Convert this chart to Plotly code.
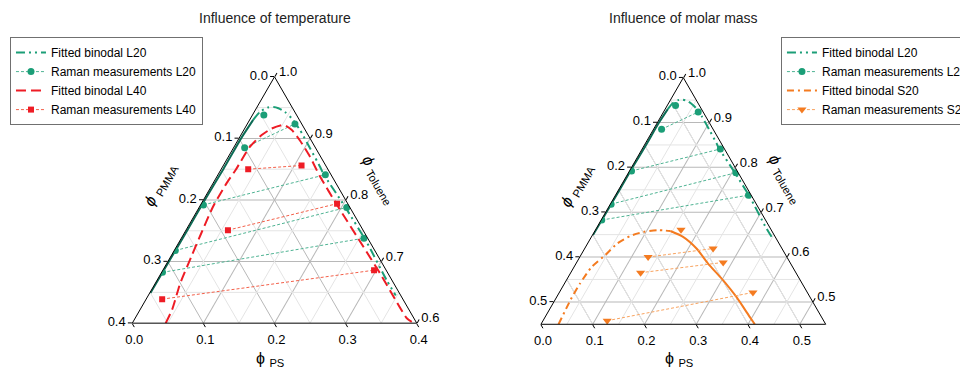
import plotly.graph_objects as go

FONT = "Arial, 'Liberation Sans', sans-serif"

TEAL = "#1b9e77"
TEAL_LIGHT = "#4fb393"
TEAL_DARK = "#0d6b55"
RED = "#ee1c25"
RED_LIGHT = "#f3604a"
ORANGE = "#f47b20"
ORANGE_LIGHT = "#f8a35f"

# ---------------- data (volume fractions: toluene, PS; PMMA = 1 - toluene - PS) ----------------
# Fitted binodal L20 (PMMA-rich branch along the PS = 0 edge, then the arc)
l20_edge_tol = [0.649, 0.700, 0.750, 0.800, 0.850, 0.900, 0.930]
l20_edge_ps = [0.001, 0.0015, 0.002, 0.002, 0.003, 0.003, 0.005]
l20_arc_tol = [0.930, 0.943, 0.950, 0.951, 0.949, 0.943, 0.9325, 0.9136, 0.884, 0.854, 0.843,
               0.789, 0.732, 0.670, 0.645]
l20_arc_ps = [0.005, 0.008, 0.015, 0.023, 0.031, 0.043, 0.058, 0.079, 0.108, 0.137, 0.147,
              0.2046, 0.2634, 0.3226, 0.348]

# Fitted binodal L40
l40_tol = [0.600, 0.622, 0.665, 0.708, 0.746, 0.789, 0.827, 0.849, 0.886, 0.905, 0.916, 0.922,
           0.914, 0.897, 0.870, 0.838, 0.789, 0.724, 0.676, 0.643, 0.608, 0.602]
l40_ps = [0.047, 0.045, 0.035, 0.029, 0.024, 0.019, 0.019, 0.021, 0.022, 0.029, 0.038, 0.052,
          0.067, 0.087, 0.115, 0.145, 0.195, 0.263, 0.313, 0.346, 0.382, 0.392]

# Fitted binodal S20 (left part, right part)
s20_left_tol = [0.450, 0.504, 0.541, 0.578, 0.604, 0.630, 0.647, 0.656, 0.660, 0.658]
s20_left_ps = [0.034, 0.030, 0.030, 0.034, 0.047, 0.057, 0.074, 0.095, 0.120, 0.146]
s20_right_tol = [0.658, 0.645, 0.619, 0.5855, 0.548, 0.511, 0.4665, 0.450]
s20_right_ps = [0.146, 0.177, 0.216, 0.255, 0.303, 0.347, 0.395, 0.413]

# Raman measurements (tie lines: each inner list is one measurement)
raman_l20_tol = [[0.938], [0.885, 0.9235], [0.792, 0.841], [0.718, 0.788], [0.6825, 0.738]]
raman_l20_ps = [[0.016], [0.0155, 0.067], [0.004, 0.151], [0.0015, 0.2075], [0.0012, 0.2568]]

raman_l40_tol = [[0.850, 0.856], [0.751, 0.794], [0.639, 0.686]]
raman_l40_ps = [[0.038, 0.110], [0.059, 0.191], [0.0225, 0.297]]

raman_s20_tol = [[0.661], [0.600, 0.619], [0.565, 0.588], [0.458, 0.521]]
raman_s20_ps = [[0.165], [0.132, 0.248], [0.135, 0.283], [0.124, 0.374]]

# Axis ticks
left_tol_min = 0.6
left_pmma_ticks = [0.0, 0.1, 0.2, 0.3, 0.4]
left_ps_ticks = [0.0, 0.1, 0.2, 0.3, 0.4]
left_tol_ticks = [0.6, 0.7, 0.8, 0.9, 1.0]
left_minor_tol = [0.65, 0.75, 0.85, 0.95]
left_minor = [0.05, 0.15, 0.25, 0.35]

right_tol_min = 0.45
right_pmma_ticks = [0.0, 0.1, 0.2, 0.3, 0.4, 0.5]
right_ps_ticks = [0.0, 0.1, 0.2, 0.3, 0.4, 0.5]
right_tol_ticks = [0.5, 0.6, 0.7, 0.8, 0.9, 1.0]
right_minor_tol = [0.55, 0.65, 0.75, 0.85, 0.95]
right_minor = [0.05, 0.15, 0.25, 0.35, 0.45]


def abc(tol, ps):
    b = [None if t is None else round(1 - t - p, 5) for t, p in zip(tol, ps)]
    return list(tol), b, list(ps)


def flatten(groups):
    out = []
    for i, g in enumerate(groups):
        if i:
            out.append(None)
        out.extend(g)
    return out


fig = go.Figure()

MINOR = dict(color="#e4e4e4", width=1)


def minor_grid(subplot, tmin, tol_vals, vals):
    a, b, c = [], [], []
    for t in tol_vals:  # constant toluene (horizontal)
        a += [t, t, None]; b += [1 - t, 0, None]; c += [0, 1 - t, None]
    for v in vals:
        if v >= 1 - tmin:
            continue
        # constant PS
        a += [tmin, 1 - v, None]; b += [1 - tmin - v, 0, None]; c += [v, v, None]
        # constant PMMA
        a += [tmin, 1 - v, None]; b += [v, v, None]; c += [1 - tmin - v, 0, None]
    fig.add_trace(go.Scatterternary(a=a, b=b, c=c, mode="lines", subplot=subplot,
                                    line=MINOR, hoverinfo="skip", showlegend=False,
                                    connectgaps=False))


minor_grid("ternary", left_tol_min, left_minor_tol, left_minor)
minor_grid("ternary2", right_tol_min, right_minor_tol, right_minor)


def line_trace(tol, ps, subplot, color, dash, name, legend, showlegend, group, width=2):
    a, b, c = abc(tol, ps)
    return go.Scatterternary(a=a, b=b, c=c, mode="lines", subplot=subplot, name=name,
                             line=dict(color=color, width=width, dash=dash, shape="spline",
                                       smoothing=0.6),
                             legend=legend, showlegend=showlegend, legendgroup=group)


def raman_trace(tol_groups, ps_groups, subplot, lcolor, mcolor, symbol, msize, name, legend):
    a, b, c = abc(flatten(tol_groups), flatten(ps_groups))
    return go.Scatterternary(a=a, b=b, c=c, mode="lines+markers", subplot=subplot, name=name,
                             line=dict(color=lcolor, width=1, dash="3px,2px"),
                             marker=dict(color=mcolor, symbol=symbol, size=msize),
                             connectgaps=False, legend=legend)


DASHDOT = "9px,4px,2px,4px,2px,4px"

# ---- left ternary ----
fig.add_trace(line_trace(l20_arc_tol, l20_arc_ps, "ternary", TEAL, DASHDOT,
                         "Fitted binodal L20", "legend", True, "l20a"))
fig.add_trace(line_trace(l20_edge_tol, l20_edge_ps, "ternary", TEAL_DARK, "solid",
                         "Fitted binodal L20", "legend", False, "l20a"))
fig.add_trace(raman_trace(raman_l20_tol, raman_l20_ps, "ternary", TEAL_LIGHT, TEAL,
                          "circle", 7, "Raman measurements L20", "legend"))
fig.add_trace(line_trace(l40_tol, l40_ps, "ternary", RED, "10px,5px",
                         "Fitted binodal L40", "legend", True, "l40"))
fig.add_trace(raman_trace(raman_l40_tol, raman_l40_ps, "ternary", RED_LIGHT, RED,
                          "square", 6, "Raman measurements L40", "legend"))

# ---- right ternary ----
fig.add_trace(line_trace(l20_arc_tol, l20_arc_ps, "ternary2", TEAL, DASHDOT,
                         "Fitted binodal L20", "legend2", True, "l20b"))
fig.add_trace(line_trace(l20_edge_tol, l20_edge_ps, "ternary2", TEAL_DARK, "solid",
                         "Fitted binodal L20", "legend2", False, "l20b"))
fig.add_trace(raman_trace(raman_l20_tol, raman_l20_ps, "ternary2", TEAL_LIGHT, TEAL,
                          "circle", 7, "Raman measurements L20", "legend2"))
fig.add_trace(line_trace(s20_left_tol, s20_left_ps, "ternary2", ORANGE, "7px,4px,2px,4px",
                         "Fitted binodal S20", "legend2", True, "s20"))
fig.add_trace(line_trace(s20_right_tol, s20_right_ps, "ternary2", ORANGE, "solid",
                         "Fitted binodal S20", "legend2", False, "s20"))
fig.add_trace(raman_trace(raman_s20_tol, raman_s20_ps, "ternary2", ORANGE_LIGHT, ORANGE,
                          "triangle-down", 8, "Raman measurements S20", "legend2"))


def fmt(v):
    return f"{v:.1f}"


def axis(minval, tickvals, ticktext):
    return dict(min=minval, tickmode="array", tickvals=tickvals, ticktext=ticktext,
                ticks="outside", ticklen=4, tickcolor="black", linecolor="black", linewidth=1,
                showgrid=True, gridcolor="#b8b8b8", gridwidth=1,
                tickfont=dict(size=13, family=FONT, color="black"), title=dict(text=" "))


def ternary_layout(domx, domy, tmin, pmma_ticks, ps_ticks, tol_ticks):
    return dict(
        domain=dict(x=domx, y=domy), sum=1, bgcolor="white",
        aaxis=axis(tmin, [round(1 - p, 4) for p in pmma_ticks], [fmt(p) for p in pmma_ticks]),
        baxis=axis(0, [round(1 - tmin - s, 4) for s in ps_ticks], [fmt(s) for s in ps_ticks]),
        caxis=axis(0, [round(1 - t, 4) for t in tol_ticks], [fmt(t) for t in tol_ticks]),
    )


legend_style = dict(bgcolor="white", bordercolor="#707070", borderwidth=1,
                    font=dict(family=FONT, size=12, color="black"),
                    xanchor="left", yanchor="top", traceorder="normal")

fig.update_layout(
    width=960, height=371,
    margin=dict(l=0, r=0, t=0, b=0, autoexpand=False),
    paper_bgcolor="white",
    font=dict(family=FONT, color="black"),
    ternary=ternary_layout([0.1378, 0.4341], [0.1286, 0.7933], left_tol_min,
                           left_pmma_ticks, left_ps_ticks, left_tol_ticks),
    ternary2=ternary_layout([0.5632, 0.8604], [0.1259, 0.7906], right_tol_min,
                            right_pmma_ticks, right_ps_ticks, right_tol_ticks),
    legend=dict(x=0.0104, y=0.90, **legend_style),
    legend2=dict(x=0.8135, y=0.90, **legend_style),
)

ann = []
for x, text in [(0.2865, "Influence of temperature"), (0.7115, "Influence of molar mass")]:
    ann.append(dict(x=x, y=0.952, xref="paper", yref="paper", text=text, showarrow=False,
                    xanchor="center", yanchor="middle",
                    font=dict(size=14, family=FONT, color="#222")))
for x, y, text, ang in [
    (0.1667, 0.501, "<i>ϕ</i> <sub>PMMA</sub>", -60),
    (0.3938, 0.515, "<i>ϕ</i> <sub>Toluene</sub>", 60),
    (0.2813, 0.030, "ϕ <sub>PS</sub>", 0),
    (0.6010, 0.501, "<i>ϕ</i> <sub>PMMA</sub>", -60),
    (0.8177, 0.515, "<i>ϕ</i> <sub>Toluene</sub>", 60),
    (0.7073, 0.030, "ϕ <sub>PS</sub>", 0),
]:
    ann.append(dict(x=x, y=y, xref="paper", yref="paper", text=text, showarrow=False,
                    textangle=ang, xanchor="center", yanchor="middle",
                    font=dict(size=16, family=FONT, color="black")))
fig.update_layout(annotations=ann)

fig.write_html("out.html", config={"displayModeBar": False},
               post_script="document.body.style.margin='0';document.body.style.overflow='hidden';")
